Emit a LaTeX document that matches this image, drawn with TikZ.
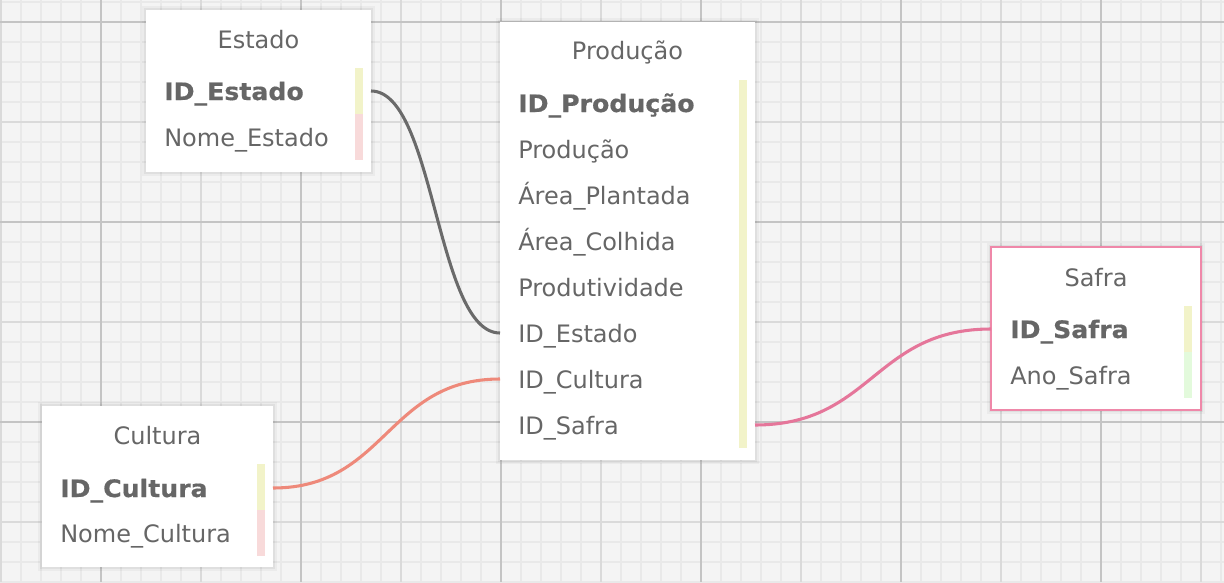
\documentclass[tikz,border=0pt]{standalone}
\usepackage{fontspec}
\setmainfont{DejaVu Sans}[BoldFeatures={FakeStretch=1.05,FakeBold=0.5}]
\definecolor{bg}{HTML}{F4F4F4}
\definecolor{gminor}{HTML}{E9E9E9}
\definecolor{gmed}{HTML}{DADADA}
\definecolor{gmaj}{HTML}{C4C4C4}
\definecolor{txt}{HTML}{666666}
\definecolor{keyy}{HTML}{F2F3C9}
\definecolor{pinkbar}{HTML}{F8DADA}
\definecolor{greenbar}{HTML}{E3FADC}
\definecolor{cgray}{HTML}{6A6A6A}
\definecolor{csalmon}{HTML}{EE897A}
\definecolor{cpink}{HTML}{E5769A}
\definecolor{sborder}{HTML}{EF88A9}
\begin{document}
\begin{tikzpicture}[x=0.75pt,y=-0.75pt,
  minorline/.style={draw=gminor,line width=1pt},
  medline/.style={draw=gmed,line width=1.2pt},
  majline/.style={draw=gmaj,line width=1.3pt},
  tbl/.style={fill=white,inner sep=0pt,outer sep=0pt,anchor=north west,
    preaction={draw=black,draw opacity=0.035,line width=6pt},
    preaction={draw=black,draw opacity=0.05,line width=3pt}},
  ttl/.style={text=txt,inner sep=0pt,anchor=base,font=\fontsize{18pt}{21pt}\selectfont},
  fld/.style={text=txt,inner sep=0pt,anchor=west,text height=13.5pt,text depth=0pt,
    font=\fontsize{18pt}{21pt}\selectfont},
  key/.style={fld,font=\fontsize{18pt}{21pt}\selectfont\bfseries},
  conn/.style={line width=2.3pt}]
\useasboundingbox (0,0) rectangle (1224,582);
\fill[bg] (0,0) rectangle (1224,582);
% grid
\foreach \x in {1,21,...,1221} \draw[minorline] (\x,0) -- (\x,582);
\foreach \y in {2,22,...,582} \draw[minorline] (0,\y) -- (1224,\y);
\foreach \x in {1,201,...,1201} \draw[medline] (\x,0) -- (\x,582);
\foreach \y in {122,322,522} \draw[medline] (0,\y) -- (1224,\y);
\foreach \x in {101,301,...,1101} \draw[majline] (\x,0) -- (\x,582);
\foreach \y in {22,222,422} \draw[majline] (0,\y) -- (1224,\y);

% Estado
\node[tbl,minimum width=168.75pt,minimum height=121.5pt] (estado) at (146,10) {};
\node[ttl] (estadot) at (258.5,48) {Estado};
\fill[keyy] (355,68) rectangle (363,114);
\fill[pinkbar] (355,114) rectangle (363,160);
\node[key] (eid) at (164,91) {ID\_Estado};
\node[fld] (enome) at (164,137) {Nome\_Estado};

% Producao
\node[tbl,minimum width=191.25pt,minimum height=328.5pt] (prod) at (500,22) {};
\node[ttl] (prodt) at (627.5,59) {Produção};
\fill[keyy] (739,80) rectangle (747,448);
\node[key] (pid) at (518,103) {ID\_Produção};
\node[fld] (pprod) at (518,149) {Produção};
\node[fld] (parea) at (518,195) {Área\_Plantada};
\node[fld] (pcolh) at (518,241) {Área\_Colhida};
\node[fld] (pprodt) at (518,287) {Produtividade};
\node[fld] (pest) at (518,333) {ID\_Estado};
\node[fld] (pcult) at (518,379) {ID\_Cultura};
\node[fld] (psafra) at (518,425) {ID\_Safra};

% Safra
\node[tbl,draw=sborder,line width=1.5pt,minimum width=157.5pt,minimum height=122.25pt] (safra) at (991,247) {};
\node[ttl] (safrat) at (1096,286) {Safra};
\fill[keyy] (1184,306) rectangle (1192,352);
\fill[greenbar] (1184,352) rectangle (1192,398);
\node[key] (sid) at (1010,329) {ID\_Safra};
\node[fld] (sano) at (1010,375) {Ano\_Safra};

% Cultura
\node[tbl,minimum width=173.25pt,minimum height=120.75pt] (cult) at (42,406) {};
\node[ttl] (cultt) at (157.5,444) {Cultura};
\fill[keyy] (257,464) rectangle (265,510);
\fill[pinkbar] (257,510) rectangle (265,556);
\node[key] (cid) at (60,488) {ID\_Cultura};
\node[fld] (cnome) at (60,533) {Nome\_Cultura};

% connectors
\draw[conn,cgray] (estado.east |- eid.west) .. controls +(64,0) and +(-64,0) .. (prod.west |- pest.west);
\draw[conn,csalmon] (cult.east |- cid.west) .. controls +(113,0) and +(-113,0) .. (prod.west |- pcult.west);
\draw[conn,cpink] (prod.east |- psafra.west) .. controls +(117,0) and +(-117,0) .. (safra.west |- sid.west);
\end{tikzpicture}
\end{document}
